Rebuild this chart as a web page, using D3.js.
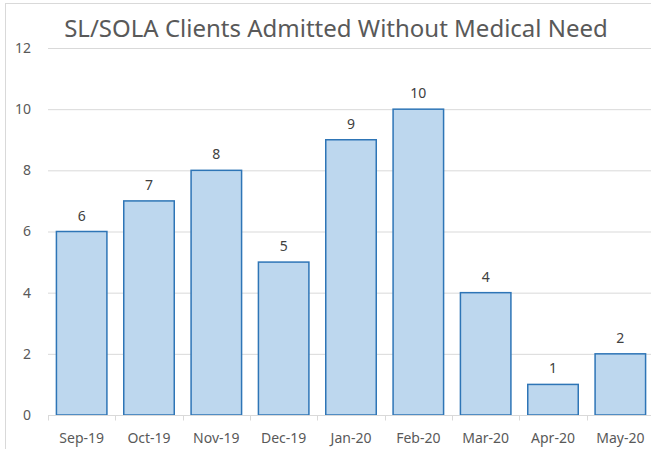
<!DOCTYPE html>
<html>
<head>
<meta charset="utf-8">
<script src="https://cdn.jsdelivr.net/npm/d3@7"></script>
<style>
  body { margin: 0; background: #fff; }
  svg { display: block; font-family: "Noto Sans", "Open Sans", sans-serif; }
</style>
</head>
<body>
<script>
var months = ["Sep-19", "Oct-19", "Nov-19", "Dec-19", "Jan-20", "Feb-20", "Mar-20", "Apr-20", "May-20"];
var clients = [6, 7, 8, 5, 9, 10, 4, 1, 2];
var yTicks = [0, 2, 4, 6, 8, 10, 12];

var svg = d3.select("body")
            .append("svg")
            .attr("width", 651)
            .attr("height", 449);

// chart frame (right and bottom edges fall outside the picture)
svg.append("rect")
   .attr("x", 5.5)
   .attr("y", 3.5)
   .attr("width", 660)
   .attr("height", 460)
   .attr("fill", "#fff")
   .attr("stroke", "#d9d9d9");

var xScale = d3.scaleBand()
               .domain(months)
               .range([48, 654])
               .paddingInner(0.25)
               .paddingOuter(0.125);

var yScale = d3.scaleLinear()
               .domain([0, 12])
               .range([415, 48]);

svg.append("text")
   .attr("x", 336)
   .attr("y", 37)
   .attr("text-anchor", "middle")
   .attr("fill", "#595959")
   .style("font-size", "24px")
   .text("SL/SOLA Clients Admitted Without Medical Need");

// gridlines
svg.append("g")
   .selectAll("line")
   .data(yTicks.filter(function(d) { return d > 0; }))
   .enter()
   .append("line")
   .attr("x1", 48)
   .attr("x2", 660)
   .attr("y1", function(d) { return yScale(d) + 0.5; })
   .attr("y2", function(d) { return yScale(d) + 0.5; })
   .attr("stroke", "#d9d9d9");

// y labels
svg.append("g")
   .selectAll("text")
   .data(yTicks)
   .enter()
   .append("text")
   .attr("x", 31)
   .attr("y", function(d) { return yScale(d); })
   .attr("dy", "0.35em")
   .attr("text-anchor", "end")
   .attr("fill", "#595959")
   .style("font-size", "14px")
   .text(function(d) { return d; });

svg.selectAll("rect.bar")
   .data(clients)
   .enter()
   .append("rect")
   .attr("class", "bar")
   .attr("x", function(d, i) { return xScale(months[i]); })
   .attr("y", function(d) { return yScale(d); })
   .attr("width", xScale.bandwidth())
   .attr("height", function(d) { return 415 - yScale(d); })
   .attr("fill", "#bdd7ee")
   .attr("stroke", "#2e75b6")
   .attr("stroke-width", 1.5);

svg.selectAll("text.value")
   .data(clients)
   .enter()
   .append("text")
   .attr("class", "value")
   .attr("x", function(d, i) { return xScale(months[i]) + xScale.bandwidth() / 2; })
   .attr("y", function(d) { return yScale(d) - 11; })
   .attr("text-anchor", "middle")
   .attr("fill", "#404040")
   .style("font-size", "14px")
   .text(function(d) { return d; });

// x axis
var xAxis = svg.append("g").attr("transform", "translate(0,415.5)");
xAxis.append("line")
     .attr("x1", 48).attr("x2", 660)
     .attr("stroke", "#d9d9d9");
xAxis.selectAll("line.tick")
     .data(d3.range(months.length + 1))
     .enter()
     .append("line")
     .attr("class", "tick")
     .attr("x1", function(i) { return Math.round(48 + i * xScale.step()) + 0.5; })
     .attr("x2", function(i) { return Math.round(48 + i * xScale.step()) + 0.5; })
     .attr("y1", 0).attr("y2", 5)
     .attr("stroke", "#d9d9d9");
xAxis.selectAll("text")
     .data(months)
     .enter()
     .append("text")
     .attr("x", function(d) { return xScale(d) + xScale.bandwidth() / 2; })
     .attr("y", 27)
     .attr("text-anchor", "middle")
     .attr("fill", "#595959")
     .style("font-size", "14px")
     .text(function(d) { return d; });
</script>
</body>
</html>
